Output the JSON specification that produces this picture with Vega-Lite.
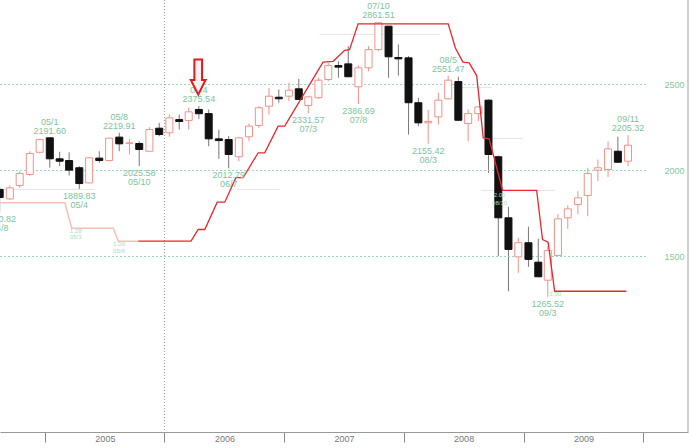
{
  "$schema": "https://vega.github.io/schema/vega-lite/v6.json",
  "width": 688,
  "height": 432,
  "autosize": {"type": "none"},
  "padding": {"left": 0, "top": 0, "right": 1, "bottom": 16},
  "background": "white",
  "config": {"view": {"stroke": null}},
  "datasets": {
    "candles": [
      {"d": "2004-08-16", "o": 1890, "h": 1905, "l": 1760.82, "c": 1843},
      {"d": "2004-09-16", "o": 1835, "h": 1913, "l": 1829, "c": 1899},
      {"d": "2004-10-16", "o": 1913, "h": 1996, "l": 1899, "c": 1983},
      {"d": "2004-11-16", "o": 1977, "h": 2112, "l": 1967, "c": 2099},
      {"d": "2004-12-16", "o": 2106, "h": 2185, "l": 2100, "c": 2180},
      {"d": "2005-01-16", "o": 2190, "h": 2191.6, "l": 2016, "c": 2068},
      {"d": "2005-02-15", "o": 2068, "h": 2109, "l": 2025, "c": 2054},
      {"d": "2005-03-16", "o": 2058, "h": 2106, "l": 1971, "c": 2002},
      {"d": "2005-04-16", "o": 2016, "h": 2025, "l": 1889.83, "c": 1924},
      {"d": "2005-05-16", "o": 1928, "h": 2076, "l": 1926, "c": 2074},
      {"d": "2005-06-16", "o": 2072, "h": 2112, "l": 2045, "c": 2058},
      {"d": "2005-07-16", "o": 2058, "h": 2190, "l": 2055, "c": 2188},
      {"d": "2005-08-16", "o": 2194, "h": 2219.91, "l": 2112, "c": 2155},
      {"d": "2005-09-16", "o": 2158, "h": 2184, "l": 2093, "c": 2160},
      {"d": "2005-10-16", "o": 2157, "h": 2170, "l": 2025.58, "c": 2122},
      {"d": "2005-11-16", "o": 2112, "h": 2252, "l": 2112, "c": 2238},
      {"d": "2005-12-16", "o": 2246, "h": 2277, "l": 2199, "c": 2209},
      {"d": "2006-01-16", "o": 2219, "h": 2326, "l": 2196, "c": 2306},
      {"d": "2006-02-15", "o": 2296, "h": 2326, "l": 2238, "c": 2285},
      {"d": "2006-03-16", "o": 2291, "h": 2365, "l": 2238, "c": 2341},
      {"d": "2006-04-16", "o": 2355, "h": 2375.54, "l": 2300, "c": 2330},
      {"d": "2006-05-16", "o": 2331, "h": 2355, "l": 2141, "c": 2184},
      {"d": "2006-06-16", "o": 2184, "h": 2238, "l": 2068, "c": 2174},
      {"d": "2006-07-16", "o": 2180, "h": 2200, "l": 2012.79, "c": 2093},
      {"d": "2006-08-16", "o": 2080, "h": 2196, "l": 2054, "c": 2190},
      {"d": "2006-09-16", "o": 2196, "h": 2273, "l": 2170, "c": 2258},
      {"d": "2006-10-16", "o": 2262, "h": 2374, "l": 2248, "c": 2365},
      {"d": "2006-11-16", "o": 2374, "h": 2481, "l": 2326, "c": 2432},
      {"d": "2006-12-16", "o": 2426, "h": 2471, "l": 2394, "c": 2417},
      {"d": "2007-01-16", "o": 2432, "h": 2510, "l": 2403, "c": 2467},
      {"d": "2007-02-15", "o": 2475, "h": 2533, "l": 2410, "c": 2413},
      {"d": "2007-03-16", "o": 2378, "h": 2432, "l": 2331.57, "c": 2428},
      {"d": "2007-04-16", "o": 2423, "h": 2539, "l": 2417, "c": 2525},
      {"d": "2007-05-16", "o": 2529, "h": 2626, "l": 2519, "c": 2610},
      {"d": "2007-06-16", "o": 2610, "h": 2635, "l": 2539, "c": 2601},
      {"d": "2007-07-16", "o": 2620, "h": 2723, "l": 2543, "c": 2545},
      {"d": "2007-08-16", "o": 2487, "h": 2610, "l": 2386.69, "c": 2597},
      {"d": "2007-09-16", "o": 2597, "h": 2723, "l": 2577, "c": 2703},
      {"d": "2007-10-16", "o": 2703, "h": 2861.51, "l": 2694, "c": 2859},
      {"d": "2007-11-16", "o": 2839, "h": 2841, "l": 2539, "c": 2661},
      {"d": "2007-12-16", "o": 2657, "h": 2733, "l": 2552, "c": 2649},
      {"d": "2008-01-16", "o": 2655, "h": 2665, "l": 2209, "c": 2394},
      {"d": "2008-02-15", "o": 2394, "h": 2423, "l": 2258, "c": 2277},
      {"d": "2008-03-16", "o": 2277, "h": 2351, "l": 2155.42, "c": 2285},
      {"d": "2008-04-16", "o": 2312, "h": 2452, "l": 2267, "c": 2409},
      {"d": "2008-05-16", "o": 2417, "h": 2551.47, "l": 2413, "c": 2525},
      {"d": "2008-06-16", "o": 2517, "h": 2545, "l": 2290, "c": 2292},
      {"d": "2008-07-16", "o": 2273, "h": 2355, "l": 2170, "c": 2331},
      {"d": "2008-08-16", "o": 2331, "h": 2374, "l": 2287, "c": 2370},
      {"d": "2008-09-16", "o": 2409, "h": 2413, "l": 1986, "c": 2093},
      {"d": "2008-10-16", "o": 2080, "h": 2087, "l": 1502, "c": 1725},
      {"d": "2008-11-16", "o": 1725, "h": 1789, "l": 1298, "c": 1541},
      {"d": "2008-12-16", "o": 1498, "h": 1609, "l": 1405, "c": 1580},
      {"d": "2009-01-16", "o": 1580, "h": 1673, "l": 1440, "c": 1483},
      {"d": "2009-02-15", "o": 1467, "h": 1603, "l": 1380, "c": 1382},
      {"d": "2009-03-16", "o": 1362, "h": 1560, "l": 1265.52, "c": 1535},
      {"d": "2009-04-16", "o": 1506, "h": 1746, "l": 1506, "c": 1719},
      {"d": "2009-05-16", "o": 1725, "h": 1797, "l": 1661, "c": 1777},
      {"d": "2009-06-16", "o": 1802, "h": 1880, "l": 1745, "c": 1841},
      {"d": "2009-07-16", "o": 1855, "h": 2016, "l": 1734, "c": 1983},
      {"d": "2009-08-16", "o": 2002, "h": 2064, "l": 1938, "c": 2016},
      {"d": "2009-09-16", "o": 2006, "h": 2170, "l": 1963, "c": 2126},
      {"d": "2009-10-16", "o": 2112, "h": 2196, "l": 2046, "c": 2048},
      {"d": "2009-11-16", "o": 2054, "h": 2205.32, "l": 2025, "c": 2147}
    ],
    "oldStop": [
      {"d": "2004-08-17", "v": 1812},
      {"d": "2005-03-03", "v": 1812},
      {"d": "2005-03-24", "v": 1664},
      {"d": "2005-07-29", "v": 1664},
      {"d": "2005-08-13", "v": 1589},
      {"d": "2005-10-13", "v": 1589}
    ],
    "stop": [
      {"d": "2005-10-13", "v": 1589},
      {"d": "2006-03-23", "v": 1589},
      {"d": "2006-04-14", "v": 1657},
      {"d": "2006-05-04", "v": 1657},
      {"d": "2006-06-11", "v": 1816},
      {"d": "2006-07-04", "v": 1816},
      {"d": "2006-08-07", "v": 1958},
      {"d": "2006-08-29", "v": 1958},
      {"d": "2006-10-14", "v": 2103},
      {"d": "2006-11-03", "v": 2103},
      {"d": "2006-12-14", "v": 2258},
      {"d": "2007-01-03", "v": 2258},
      {"d": "2007-04-30", "v": 2630},
      {"d": "2007-05-31", "v": 2635},
      {"d": "2007-07-05", "v": 2699},
      {"d": "2007-07-20", "v": 2703},
      {"d": "2007-08-15", "v": 2853},
      {"d": "2008-05-16", "v": 2853},
      {"d": "2008-06-07", "v": 2712},
      {"d": "2008-06-30", "v": 2630},
      {"d": "2008-07-19", "v": 2626},
      {"d": "2008-08-11", "v": 2552},
      {"d": "2008-08-31", "v": 2190},
      {"d": "2008-09-18", "v": 2184},
      {"d": "2008-10-29", "v": 1885},
      {"d": "2009-02-10", "v": 1885},
      {"d": "2009-02-28", "v": 1599},
      {"d": "2009-03-17", "v": 1583},
      {"d": "2009-04-06", "v": 1298},
      {"d": "2009-11-11", "v": 1298}
    ],
    "ghost": [
      {"d": "2004-08-17", "d2": "2005-06-02", "v": 1890},
      {"d": "2006-08-10", "d2": "2006-12-19", "v": 1890},
      {"d": "2007-04-20", "d2": "2008-04-21", "v": 2791},
      {"d": "2008-05-30", "d2": "2008-09-26", "v": 2483},
      {"d": "2008-09-05", "d2": "2008-12-30", "v": 2186},
      {"d": "2008-08-24", "d2": "2009-04-07", "v": 1884}
    ],
    "highs": [
      {"d": "2005-01-16", "v": 2191.6, "m": "05/1"},
      {"d": "2005-08-16", "v": 2219.91, "m": "05/8"},
      {"d": "2006-04-16", "v": 2375.54, "m": "06/4"},
      {"d": "2007-10-16", "v": 2861.51, "m": "07/10"},
      {"d": "2008-05-16", "v": 2551.47, "m": "08/5"},
      {"d": "2009-11-16", "v": 2205.32, "m": "09/11"}
    ],
    "lows": [
      {"d": "2004-08-16", "v": 1760.82, "m": "04/8"},
      {"d": "2005-04-16", "v": 1889.83, "m": "05/4"},
      {"d": "2005-10-16", "v": 2025.58, "m": "05/10"},
      {"d": "2006-07-16", "v": 2012.79, "m": "06/7"},
      {"d": "2007-03-16", "v": 2331.57, "m": "07/3"},
      {"d": "2007-08-16", "v": 2386.69, "m": "07/8"},
      {"d": "2008-03-16", "v": 2155.42, "m": "08/3"},
      {"d": "2009-03-16", "v": 1265.52, "m": "09/3"}
    ],
    "stopNotes": [
      {"d": "2005-04-05", "v": 1651, "t": "1.28"},
      {"d": "2005-04-05", "v": 1611, "t": "05/3"},
      {"d": "2005-08-15", "v": 1570, "t": "1.00"},
      {"d": "2005-08-15", "v": 1530, "t": "05/8"},
      {"d": "2008-10-20", "v": 1855, "t": "2.00"},
      {"d": "2008-10-20", "v": 1812, "t": "08/10"},
      {"d": "2009-04-08", "v": 1283, "t": "1.00"}
    ],
    "grid": [{"g": 1500}, {"g": 2000}, {"g": 2500}],
    "marker": [{"d": "2006-04-14", "v": 2543}],
    "one": [{}]
  },
  "layer": [
    {
      "data": {"name": "candles"},
      "mark": {"type": "rule", "strokeWidth": 1},
      "encoding": {
        "x": {
          "field": "d", "type": "temporal",
          "scale": {"type": "utc", "padding": 0, "domain": [{"year": 2004, "month": 8, "date": 17, "utc": true}, {"year": 2010, "month": 5, "date": 18, "utc": true}]},
          "axis": {
            "title": null,
            "grid": false,
            "values": [
              {"year": 2005, "month": 1, "date": 1, "utc": true},
              {"year": 2006, "month": 1, "date": 1, "utc": true},
              {"year": 2007, "month": 1, "date": 1, "utc": true},
              {"year": 2008, "month": 1, "date": 1, "utc": true},
              {"year": 2009, "month": 1, "date": 1, "utc": true},
              {"year": 2010, "month": 1, "date": 1, "utc": true}
            ],
            "labelExpr": "utcyear(datum.value) >= 2010 ? '' : utcFormat(datum.value, '%Y')",
            "labelOffset": 60,
            "labelFlush": false,
            "labelOverlap": false,
            "labelBound": false,
            "tickSize": 10,
            "tickColor": "#888888",
            "domainColor": "#999999",
            "labelColor": "#777777",
            "labelFontSize": 9,
            "labelFont": "Liberation Sans",
            "labelPadding": -8,
            "labelBaseline": "top"
          }
        },
        "y": {
          "field": "l", "type": "quantitative",
          "scale": {"domain": [479.6, 2991.3], "nice": false, "zero": false, "padding": 0},
          "axis": {
            "orient": "right",
            "title": null,
            "grid": false,
            "values": [1500, 2000, 2500],
            "format": "d",
            "offset": -24,
            "domain": false,
            "ticks": false,
            "labelPadding": 0,
            "labelColor": "#82c8a0",
            "labelFontSize": 9,
            "labelFont": "Liberation Sans"
          }
        },
        "y2": {"field": "h"},
        "color": {"condition": {"test": "datum.c >= datum.o", "value": "#f29189"}, "value": "#777777"}
      }
    },
    {
      "data": {"name": "grid"},
      "mark": {"type": "rule", "color": "#9fd6b8", "strokeDash": [2, 2], "strokeWidth": 1},
      "encoding": {
        "y": {"field": "g", "type": "quantitative"},
        "x": {"datum": {"year": 2004, "month": 8, "date": 17, "utc": true}, "type": "temporal"},
        "x2": {"datum": {"year": 2010, "month": 1, "date": 15, "utc": true}}
      }
    },
    {
      "data": {"name": "ghost"},
      "mark": {"type": "rule", "color": "#e4e4e4", "strokeWidth": 1},
      "encoding": {
        "y": {"field": "v", "type": "quantitative"},
        "x": {"field": "d", "type": "temporal"},
        "x2": {"field": "d2"}
      }
    },
    {
      "data": {"name": "one"},
      "mark": {"type": "rule", "color": "#9a9a9a", "strokeDash": [1, 2], "strokeWidth": 1},
      "encoding": {
        "x": {"datum": {"year": 2006, "month": 1, "date": 1, "utc": true}, "type": "temporal"}
      }
    },
    {
      "data": {"name": "one"},
      "mark": {"type": "rule", "color": "#a0a0a0", "strokeWidth": 1},
      "encoding": {
        "x": {"datum": {"year": 2010, "month": 5, "date": 18, "utc": true}, "type": "temporal"}
      }
    },
    {
      "data": {"name": "candles"},
      "mark": {"type": "bar", "size": 7, "strokeWidth": 1},
      "encoding": {
        "x": {"field": "d", "type": "temporal"},
        "y": {"field": "o", "type": "quantitative"},
        "y2": {"field": "c"},
        "fill": {"condition": {"test": "datum.c >= datum.o", "value": "#ffffff"}, "value": "#111111"},
        "stroke": {"condition": {"test": "datum.c >= datum.o", "value": "#f29189"}, "value": "#111111"}
      }
    },
    {
      "data": {"name": "oldStop"},
      "mark": {"type": "line", "color": "#f6bfb8", "strokeWidth": 1.5},
      "encoding": {
        "x": {"field": "d", "type": "temporal"},
        "y": {"field": "v", "type": "quantitative"}
      }
    },
    {
      "data": {"name": "stop"},
      "mark": {"type": "line", "color": "#e8262c", "strokeWidth": 1.3},
      "encoding": {
        "x": {"field": "d", "type": "temporal"},
        "y": {"field": "v", "type": "quantitative"}
      }
    },
    {
      "data": {"name": "stopNotes"},
      "mark": {"type": "text", "baseline": "middle", "align": "center", "font": "Liberation Sans", "fontSize": 6, "color": "#a8dcc0"},
      "encoding": {
        "x": {"field": "d", "type": "temporal"},
        "y": {"field": "v", "type": "quantitative"},
        "text": {"field": "t"}
      }
    },
    {
      "data": {"name": "highs"},
      "mark": {"type": "text", "baseline": "bottom", "align": "center", "dy": -2, "font": "Liberation Sans", "fontSize": 9, "color": "#7cc49c"},
      "encoding": {
        "x": {"field": "d", "type": "temporal"},
        "y": {"field": "v", "type": "quantitative"},
        "text": {"field": "v", "format": ".2f"}
      }
    },
    {
      "data": {"name": "highs"},
      "mark": {"type": "text", "baseline": "bottom", "align": "center", "dy": -11, "font": "Liberation Sans", "fontSize": 9, "color": "#7cc49c"},
      "encoding": {
        "x": {"field": "d", "type": "temporal"},
        "y": {"field": "v", "type": "quantitative"},
        "text": {"field": "m"}
      }
    },
    {
      "data": {"name": "lows"},
      "mark": {"type": "text", "baseline": "top", "align": "center", "dy": 3, "font": "Liberation Sans", "fontSize": 9, "color": "#7cc49c"},
      "encoding": {
        "x": {"field": "d", "type": "temporal"},
        "y": {"field": "v", "type": "quantitative"},
        "text": {"field": "v", "format": ".2f"}
      }
    },
    {
      "data": {"name": "lows"},
      "mark": {"type": "text", "baseline": "top", "align": "center", "dy": 12, "font": "Liberation Sans", "fontSize": 9, "color": "#7cc49c"},
      "encoding": {
        "x": {"field": "d", "type": "temporal"},
        "y": {"field": "v", "type": "quantitative"},
        "text": {"field": "m"}
      }
    },
    {
      "data": {"name": "marker"},
      "mark": {"type": "point", "shape": "M-0.22,-1L0.22,-1L0.22,0.16L0.42,0.16L0,1L-0.42,0.16L-0.22,0.16Z", "size": 1225, "fill": "#fff0f0", "fillOpacity": 1, "stroke": "#e31a1c", "strokeWidth": 2, "opacity": 1},
      "encoding": {
        "x": {"field": "d", "type": "temporal"},
        "y": {"field": "v", "type": "quantitative"}
      }
    }
  ]
}
